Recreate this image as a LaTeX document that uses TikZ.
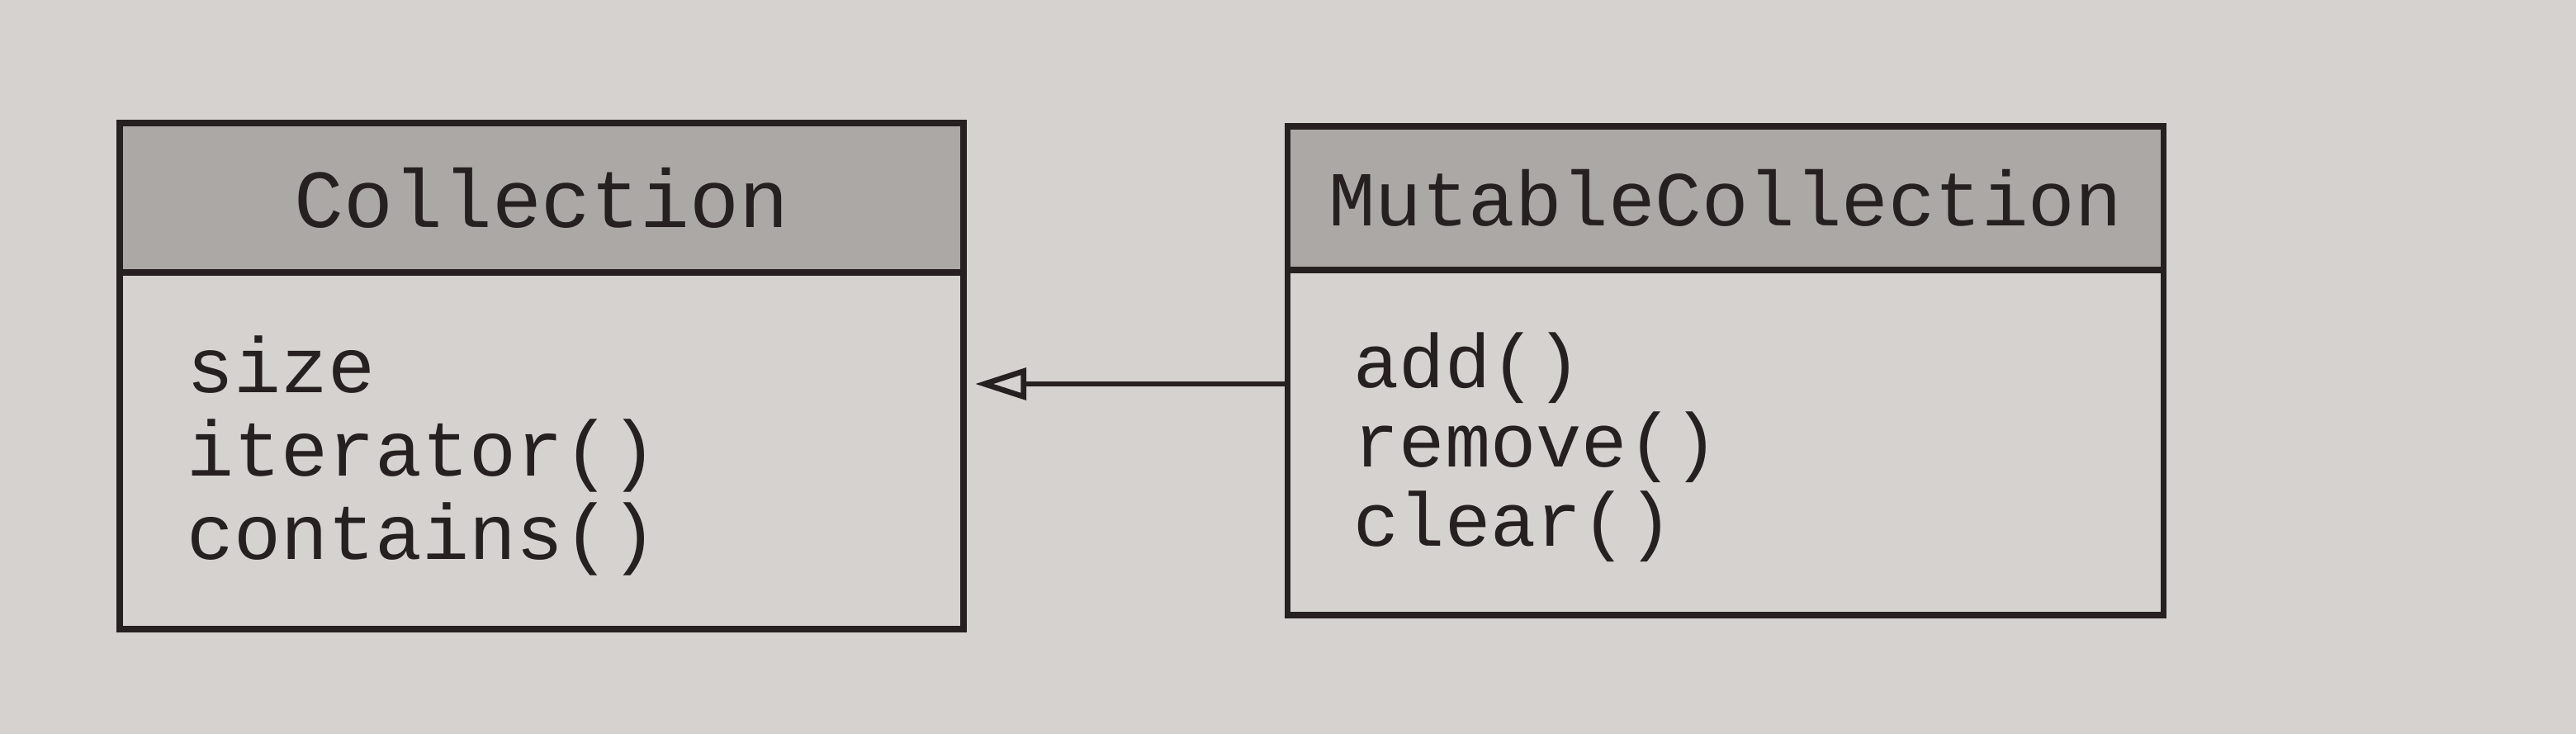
\documentclass[tikz,border=0pt]{standalone}
\usepackage{fontspec}
\setmonofont{Liberation Mono}
\usetikzlibrary{arrows.meta}
\definecolor{paper}{RGB}{214,210,207}
\definecolor{hdr}{RGB}{172,168,165}
\definecolor{ink}{RGB}{38,32,32}
\begin{document}
\begin{tikzpicture}[x=1cm,y=1cm,
  box/.style={draw=ink, line width=2pt, inner sep=0pt, outer sep=0pt, text=ink},
  hdrbox/.style={box, fill=hdr},
  bodybox/.style={box, fill=paper},
  lmember/.style={anchor=base west, inner sep=0pt, text=ink, font=\ttfamily\fontsize{27}{29}\selectfont},
  rmember/.style={anchor=base west, inner sep=0pt, text=ink, font=\ttfamily\fontsize{26.2}{28}\selectfont},
  inherit/.style={draw=ink, line width=1.9pt, -{Triangle[open,length=0.62cm,width=0.38cm]}, shorten >=0.14cm}
]
\fill[paper] (0,0) rectangle (31.2,-8.89);
\useasboundingbox (0,0) rectangle (31.2,-8.89);

% Collection
\node[hdrbox, minimum width=10.22cm, minimum height=1.81cm, anchor=north west,
      font=\ttfamily\fontsize{28.4}{30}\selectfont] (collh) at (1.45,-1.49) {Collection};
\node[bodybox, minimum width=10.22cm, minimum height=4.32cm, anchor=north west] (collb) at (collh.south west) {};
\node[lmember] (c1) at (2.26,-4.75) {size};
\node[lmember] (c2) at (2.26,-5.76) {iterator()};
\node[lmember] (c3) at (2.26,-6.77) {contains()};

% MutableCollection
\node[hdrbox, minimum width=10.61cm, minimum height=1.74cm, anchor=north west,
      font=\ttfamily\fontsize{26.8}{28}\selectfont] (muth) at (15.59,-1.53) {MutableCollection};
\node[bodybox, minimum width=10.61cm, minimum height=4.18cm, anchor=north west] (mutb) at (muth.south west) {};
\node[rmember] (r1) at (16.39,-4.69) {add()};
\node[rmember] (r2) at (16.39,-5.65) {remove()};
\node[rmember] (r3) at (16.39,-6.61) {clear()};

% inheritance arrow
\coordinate (lvl) at (0,-4.65);
\draw[inherit] (mutb.west |- lvl) -- (collb.east |- lvl);
\end{tikzpicture}
\end{document}
